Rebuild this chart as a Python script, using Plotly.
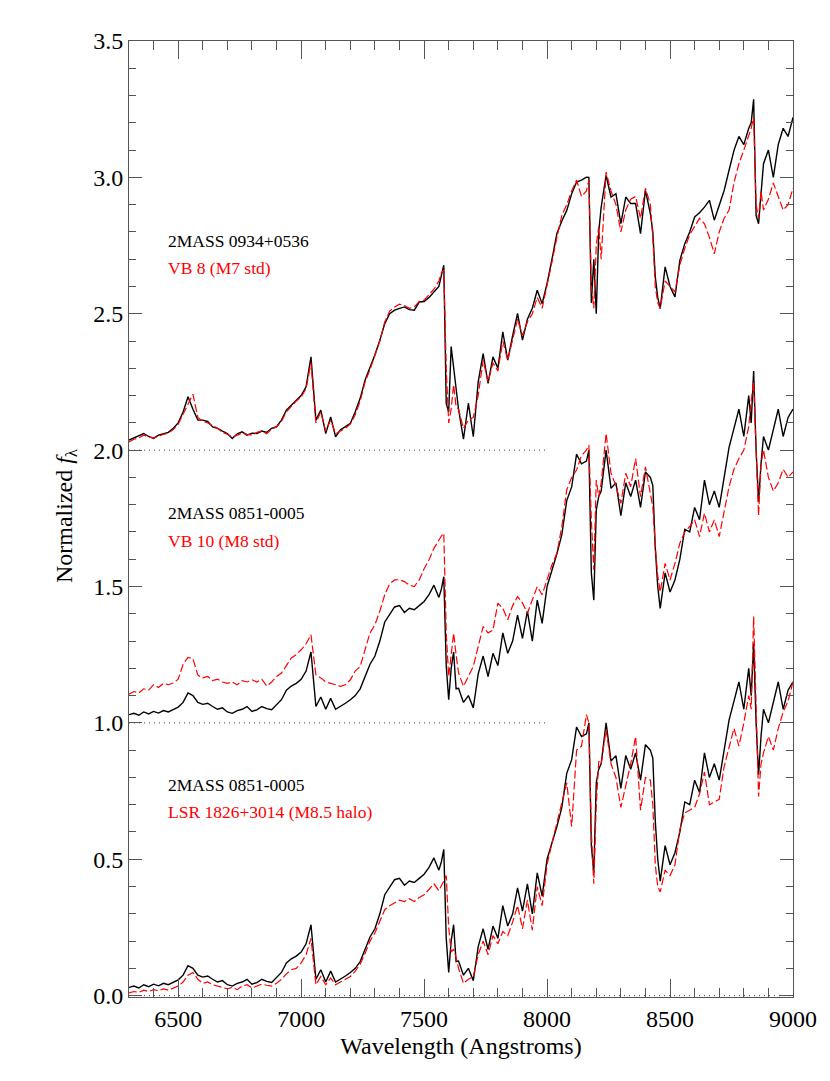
import plotly.graph_objects as go

# ---------------- data ----------------
wavelength = [
    6300, 6320, 6340, 6360, 6380, 6400, 6420, 6440, 6460, 6480,
    6500, 6520, 6540, 6560, 6580, 6600, 6620, 6640, 6660, 6680,
    6700, 6720, 6740, 6760, 6780, 6800, 6820, 6840, 6860, 6880,
    6900, 6920, 6940, 6960, 6980, 7000, 7020, 7040, 7060, 7080,
    7100, 7120, 7140, 7160, 7180, 7200, 7220, 7240, 7260, 7280,
    7300, 7320, 7340, 7360, 7380, 7400, 7420, 7440, 7460, 7480,
    7500, 7520, 7540, 7560, 7570, 7580, 7590, 7600, 7610, 7620,
    7630, 7640, 7660, 7680, 7700, 7720, 7740, 7760, 7780, 7800,
    7820, 7840, 7860, 7880, 7900, 7920, 7940, 7960, 7980, 8000,
    8020, 8040, 8060, 8080, 8100, 8120, 8140, 8160, 8170, 8180,
    8190, 8200, 8210, 8220, 8240, 8260, 8280, 8300, 8320, 8340,
    8360, 8380, 8400, 8420, 8430, 8440, 8450, 8460, 8480, 8500,
    8520, 8540, 8560, 8580, 8600, 8620, 8640, 8660, 8680, 8700,
    8720, 8740, 8760, 8780, 8800, 8820, 8830, 8840, 8850, 8860,
    8870, 8880, 8900, 8920, 8940, 8960, 8980, 9000,
]

flux_2mass0934 = [
    0.037, 0.045, 0.050, 0.061, 0.050, 0.043, 0.055, 0.061, 0.065, 0.080,
    0.100, 0.140, 0.196, 0.150, 0.110, 0.110, 0.105, 0.085, 0.080, 0.070,
    0.061, 0.043, 0.060, 0.067, 0.055, 0.062, 0.061, 0.070, 0.065, 0.080,
    0.086, 0.110, 0.147, 0.165, 0.184, 0.200, 0.232, 0.342, 0.110, 0.147,
    0.061, 0.122, 0.049, 0.075, 0.086, 0.098, 0.141, 0.190, 0.257, 0.300,
    0.350, 0.403, 0.464, 0.500, 0.513, 0.520, 0.525, 0.515, 0.513, 0.543,
    0.545, 0.560, 0.580, 0.600, 0.640, 0.678, 0.170, 0.140, 0.380, 0.300,
    0.210, 0.150, 0.040, 0.172, 0.049, 0.250, 0.354, 0.245, 0.342, 0.300,
    0.434, 0.330, 0.420, 0.501, 0.403, 0.480, 0.520, 0.586, 0.537, 0.611,
    0.700, 0.794, 0.840, 0.879, 0.940, 0.983, 0.990, 1.001, 1.000, 0.540,
    0.700, 0.500, 0.800, 0.891, 1.007, 0.928, 0.940, 0.830, 0.928, 0.904,
    0.904, 0.794, 0.952, 0.867, 0.800, 0.635, 0.560, 0.519, 0.672, 0.600,
    0.562, 0.696, 0.757, 0.800, 0.855, 0.870, 0.891, 0.916, 0.843, 0.900,
    0.952, 1.026, 1.099, 1.150, 1.120, 1.180, 1.200, 1.286, 0.860, 0.830,
    0.950, 1.050, 1.100, 1.000, 1.120, 1.180, 1.150, 1.220,
]

flux_vb8 = [
    0.030, 0.040, 0.045, 0.055, 0.048, 0.045, 0.050, 0.058, 0.062, 0.075,
    0.095, 0.130, 0.170, 0.205, 0.120, 0.105, 0.100, 0.090, 0.080, 0.065,
    0.058, 0.048, 0.055, 0.062, 0.058, 0.055, 0.065, 0.070, 0.060, 0.078,
    0.085, 0.105, 0.140, 0.160, 0.180, 0.195, 0.225, 0.320, 0.100, 0.140,
    0.070, 0.110, 0.060, 0.070, 0.080, 0.095, 0.130, 0.180, 0.250, 0.295,
    0.345, 0.400, 0.470, 0.510, 0.525, 0.535, 0.530, 0.520, 0.525, 0.545,
    0.550, 0.570, 0.590, 0.620, 0.650, 0.660, 0.300, 0.100, 0.150, 0.240,
    0.160, 0.150, 0.080, 0.110, 0.120, 0.200, 0.330, 0.250, 0.320, 0.290,
    0.400, 0.330, 0.400, 0.480, 0.420, 0.470, 0.500, 0.560, 0.520, 0.600,
    0.690, 0.780, 0.860, 0.900, 0.950, 0.990, 0.930, 0.950, 0.990, 0.600,
    0.520, 0.750, 0.820, 0.700, 1.020, 0.950, 0.900, 0.800, 0.880, 0.920,
    0.930, 0.850, 0.960, 0.900, 0.780, 0.600, 0.540, 0.520, 0.620, 0.600,
    0.580, 0.680, 0.740, 0.790, 0.820, 0.850, 0.830, 0.780, 0.720, 0.800,
    0.850, 0.880, 0.980, 1.050, 1.100, 1.150, 1.180, 1.220, 0.900, 0.850,
    0.950, 0.880, 0.920, 0.980, 0.930, 0.880, 0.900, 0.960,
]

flux_2mass0851 = [
    0.030, 0.035, 0.028, 0.040, 0.033, 0.042, 0.036, 0.045, 0.040, 0.050,
    0.058, 0.075, 0.110, 0.100, 0.075, 0.068, 0.072, 0.060, 0.050, 0.055,
    0.040, 0.035, 0.045, 0.050, 0.060, 0.042, 0.048, 0.060, 0.052, 0.048,
    0.065, 0.085, 0.120, 0.135, 0.145, 0.160, 0.190, 0.260, 0.060, 0.095,
    0.050, 0.090, 0.050, 0.060, 0.072, 0.085, 0.100, 0.125, 0.170, 0.215,
    0.245, 0.300, 0.370, 0.400, 0.425, 0.430, 0.405, 0.420, 0.415, 0.430,
    0.445, 0.470, 0.505, 0.460, 0.490, 0.536, 0.210, 0.085, 0.200, 0.260,
    0.125, 0.127, 0.075, 0.100, 0.055, 0.180, 0.245, 0.170, 0.255, 0.210,
    0.330, 0.255, 0.300, 0.395, 0.310, 0.410, 0.300, 0.450, 0.365, 0.500,
    0.560, 0.620, 0.690, 0.815, 0.865, 0.985, 0.950, 0.960, 1.000, 0.550,
    0.450, 0.780, 0.830, 0.850, 1.000, 0.860, 0.880, 0.760, 0.880, 0.830,
    0.890, 0.790, 0.920, 0.900, 0.870, 0.640, 0.500, 0.420, 0.550, 0.480,
    0.524, 0.600, 0.710, 0.700, 0.790, 0.745, 0.890, 0.800, 0.850, 0.790,
    0.900, 1.010, 1.080, 1.150, 1.050, 1.200, 1.100, 1.290, 1.000, 0.810,
    0.950, 1.050, 1.000, 1.080, 1.150, 1.050, 1.120, 1.150,
]

flux_vb10 = [
    0.105, 0.115, 0.110, 0.125, 0.120, 0.140, 0.130, 0.145, 0.140, 0.146,
    0.160, 0.215, 0.240, 0.235, 0.175, 0.165, 0.170, 0.155, 0.160, 0.150,
    0.145, 0.150, 0.140, 0.155, 0.150, 0.158, 0.150, 0.160, 0.135, 0.150,
    0.170, 0.183, 0.210, 0.238, 0.250, 0.268, 0.290, 0.323, 0.176, 0.165,
    0.150, 0.146, 0.140, 0.134, 0.140, 0.158, 0.190, 0.207, 0.270, 0.330,
    0.360, 0.410, 0.470, 0.510, 0.524, 0.525, 0.518, 0.505, 0.500, 0.524,
    0.565, 0.598, 0.640, 0.671, 0.685, 0.695, 0.329, 0.170, 0.250, 0.329,
    0.250, 0.183, 0.134, 0.170, 0.207, 0.280, 0.353, 0.330, 0.340, 0.439,
    0.420, 0.378, 0.430, 0.463, 0.440, 0.402, 0.450, 0.500, 0.470, 0.524,
    0.580, 0.622, 0.720, 0.854, 0.900, 0.927, 0.980, 1.000, 1.019, 0.744,
    0.561, 0.890, 0.829, 0.880, 1.061, 0.915, 0.870, 0.805, 0.915, 0.866,
    0.969, 0.829, 0.939, 0.840, 0.793, 0.646, 0.540, 0.480, 0.585, 0.524,
    0.585, 0.659, 0.700, 0.720, 0.744, 0.683, 0.769, 0.700, 0.744, 0.683,
    0.769, 0.866, 0.930, 0.969, 1.000, 1.086, 1.180, 1.250, 1.000, 0.760,
    0.950, 1.000, 0.900, 0.850, 0.880, 0.930, 0.900, 0.920,
]

flux_lsr1826 = [
    0.010, 0.015, 0.012, 0.020, 0.015, 0.022, 0.018, 0.025, 0.020, 0.028,
    0.035, 0.050, 0.075, 0.085, 0.060, 0.045, 0.050, 0.040, 0.035, 0.030,
    0.025, 0.030, 0.022, 0.035, 0.040, 0.028, 0.035, 0.042, 0.038, 0.035,
    0.045, 0.060, 0.080, 0.095, 0.100, 0.120, 0.150, 0.210, 0.040, 0.070,
    0.040, 0.065, 0.040, 0.050, 0.060, 0.070, 0.090, 0.115, 0.155, 0.200,
    0.230, 0.270, 0.315, 0.330, 0.340, 0.350, 0.345, 0.355, 0.345, 0.360,
    0.370, 0.390, 0.410, 0.385, 0.400, 0.420, 0.440, 0.250, 0.160, 0.170,
    0.140, 0.100, 0.045, 0.060, 0.070, 0.150, 0.200, 0.150, 0.220, 0.190,
    0.235, 0.220, 0.270, 0.330, 0.245, 0.350, 0.240, 0.400, 0.330, 0.480,
    0.560, 0.630, 0.700, 0.780, 0.620, 0.900, 0.915, 1.030, 1.000, 0.600,
    0.410, 0.700, 0.860, 0.850, 0.975, 0.850, 0.800, 0.690, 0.770, 0.850,
    0.950, 0.680, 0.800, 0.790, 0.700, 0.480, 0.400, 0.380, 0.460, 0.440,
    0.480, 0.610, 0.670, 0.680, 0.690, 0.740, 0.820, 0.700, 0.710, 0.720,
    0.840, 0.910, 0.980, 0.915, 1.000, 1.100, 1.050, 1.390, 1.050, 0.730,
    0.850, 0.890, 0.950, 0.900, 0.980, 1.040, 1.080, 1.150,
]

panel_offsets = [2.0, 1.0, 0.0]
black_series = [flux_2mass0934, flux_2mass0851, flux_2mass0851]
red_series = [flux_vb8, flux_vb10, flux_lsr1826]
black_labels = ["2MASS 0934+0536", "2MASS 0851-0005", "2MASS 0851-0005"]
red_labels = ["VB 8 (M7 std)", "VB 10 (M8 std)", "LSR 1826+3014 (M8.5 halo)"]
label_x = 6450
black_label_y = [0.768, 0.770, 0.774]
red_label_y = [0.669, 0.668, 0.672]

baseline_levels = [0.0, 1.0, 2.0]
baseline_start = 6300
baseline_ends = [9000, 8000, 8000]

x_range = [6300, 9000]
y_range = [-0.005, 3.5]

# ---------------- figure ----------------
FONT = "Liberation Serif"
fig = go.Figure()

for lvl, x_end in zip(baseline_levels, baseline_ends):
    fig.add_trace(go.Scatter(
        x=[baseline_start, x_end], y=[lvl, lvl], mode="lines",
        line=dict(color="#444444", width=1, dash="1px,4px"),
        hoverinfo="skip", showlegend=False))

for off, blk, red in zip(panel_offsets, black_series, red_series):
    fig.add_trace(go.Scatter(
        x=wavelength, y=[v + off for v in blk], mode="lines",
        line=dict(color="black", width=1.4), showlegend=False))
    fig.add_trace(go.Scatter(
        x=wavelength, y=[v + off for v in red], mode="lines",
        line=dict(color="#ff0000", width=1.2, dash="8px,3px"), showlegend=False))

annotations = []
for off, bl, rl, by, ry in zip(panel_offsets, black_labels, red_labels,
                               black_label_y, red_label_y):
    annotations.append(dict(x=label_x, y=off + by, xref="x", yref="y", text=bl,
                            showarrow=False, xanchor="left", yanchor="middle",
                            font=dict(family=FONT, size=17.5, color="black")))
    annotations.append(dict(x=label_x, y=off + ry, xref="x", yref="y", text=rl,
                            showarrow=False, xanchor="left", yanchor="middle",
                            font=dict(family=FONT, size=17.5, color="#ff0000")))

# y-axis title as annotation
annotations.append(dict(x=-0.095, y=0.504, xref="paper", yref="paper",
                        text="Normalized <i>f</i><sub>λ</sub>", textangle=-90,
                        showarrow=False, xanchor="center", yanchor="middle",
                        font=dict(family=FONT, size=24, color="black")))

axis_common = dict(showline=True, linecolor="#555555", linewidth=1, mirror="ticks",
                   ticks="inside", tickcolor="#555555", tickwidth=1,
                   showgrid=False, zeroline=False,
                   tickfont=dict(family=FONT, size=24, color="black"))

fig.update_layout(
    width=830, height=1081,
    margin=dict(l=121, r=45, t=33, b=92),
    paper_bgcolor="white", plot_bgcolor="white",
    showlegend=False,
    annotations=annotations,
    xaxis=dict(range=x_range, dtick=500, tick0=0, ticklen=18,
               minor=dict(dtick=100, ticklen=9, ticks="inside", tickcolor="#555555"),
               title=dict(text="Wavelength (Angstroms)", standoff=6,
                          font=dict(family=FONT, size=24, color="black")),
               **axis_common),
    yaxis=dict(range=y_range, dtick=0.5, tick0=0, ticklen=13, tickformat=".1f",
               minor=dict(dtick=0.1, ticklen=7, ticks="inside", tickcolor="#555555"),
               **axis_common),
)

fig.write_html("out.html")
